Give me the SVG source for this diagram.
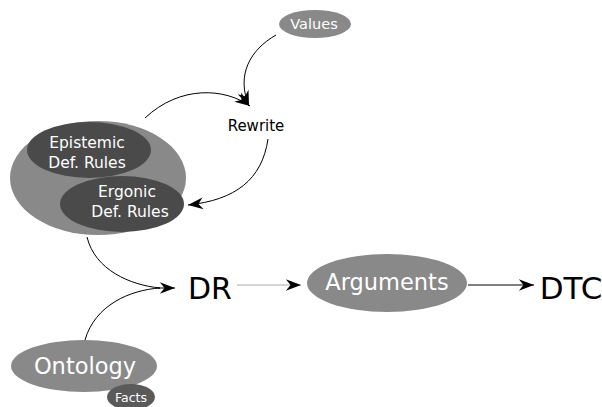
<svg xmlns="http://www.w3.org/2000/svg" width="602" height="407" viewBox="0 0 602 407">
<style>
.lt{font-family:"DejaVu Sans",sans-serif;fill:#fff;text-anchor:middle}
.bt{font-family:"DejaVu Sans",sans-serif;fill:#000;text-anchor:middle}
.mid{fill:#898989}
.dark{fill:#4a4a4a}
.c{fill:none;stroke:#000;stroke-width:1}
</style>
<defs>
<marker id="ah" markerUnits="userSpaceOnUse" markerWidth="20" markerHeight="14" viewBox="-14 -6 16 12" refX="0" refY="0" orient="auto">
<path d="M0,0 L-13,-5 L-9,0 L-13,5 Z" fill="#000"/>
</marker>
</defs>
<rect width="602" height="407" fill="#fff"/>
<g id="connectors">
<path class="c" d="M276,35 C250,50 236,75 249,106" marker-end="url(#ah)"/>
<path class="c" d="M145,118 C180,85 225,88 250,106" marker-end="url(#ah)"/>
<path class="c" d="M268,139 C262,180 235,200 188,205" marker-end="url(#ah)"/>
<path class="c" d="M87,237 C95,270 130,285 160,288"/>
<path class="c" d="M85,340 C95,305 130,290 160,288"/>
<path class="c" d="M158,288 L175,288" marker-end="url(#ah)"/>
<path d="M237,285 L301,285" fill="none" stroke="#aaa" stroke-width="1" marker-end="url(#ah)"/>
<path class="c" d="M468,285 L534,285" marker-end="url(#ah)"/>
</g>
<g id="defrules">
<ellipse class="mid" cx="98" cy="178" rx="88" ry="57"/>
</g>
<g id="epistemic">
<ellipse class="dark" cx="89" cy="150" rx="62" ry="28"/>
<text class="lt" x="87" y="148" font-size="15.5">Epistemic</text>
<text class="lt" x="87" y="168" font-size="15.5">Def. Rules</text>
</g>
<g id="ergonic">
<ellipse class="dark" cx="122" cy="204" rx="62" ry="28"/>
<text class="lt" x="127" y="197" font-size="15.5">Ergonic</text>
<text class="lt" x="130" y="217" font-size="15.5">Def. Rules</text>
</g>
<g id="values">
<ellipse class="mid" cx="315" cy="24" rx="36" ry="14"/>
<text class="lt" x="314" y="29" font-size="14.5">Values</text>
</g>
<g id="rewrite">
<text class="bt" x="256" y="131" font-size="15">Rewrite</text>
</g>
<g id="dr">
<text class="bt" x="210" y="299" font-size="30">DR</text>
</g>
<g id="arguments">
<ellipse class="mid" cx="387" cy="283" rx="80" ry="29"/>
<text class="lt" x="387" y="290" font-size="22.5">Arguments</text>
</g>
<g id="dtc">
<text class="bt" x="571" y="299" font-size="31">DTC</text>
</g>
<g id="ontology">
<ellipse class="mid" cx="84" cy="366" rx="73" ry="26"/>
<text class="lt" x="85" y="374" font-size="22.5">Ontology</text>
</g>
<g id="facts">
<ellipse fill="#5a5a5a" cx="131" cy="397" rx="24" ry="13"/>
<text class="lt" x="131" y="402" font-size="12.5">Facts</text>
</g>
</svg>
